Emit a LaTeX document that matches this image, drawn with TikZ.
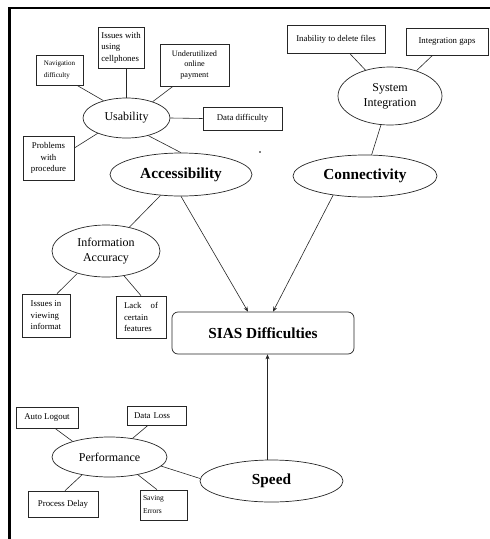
\documentclass[tikz,border=0pt]{standalone}
\usepackage{fontspec}
\setmainfont{Liberation Serif}
\usetikzlibrary{shapes.geometric,arrows.meta}

\begin{document}
\begin{tikzpicture}[x=1pt,y=-1pt,
  link/.style={draw=black!85, line width=0.6pt},
  arrowlink/.style={link, -{Stealth[length=5pt,width=4pt]}},
  topic/.style={ellipse, draw=black!85, line width=0.7pt, inner sep=0pt,
    align=center, font=\fontsize{12}{15}\selectfont},
  maintopic/.style={topic, font=\bfseries\fontsize{15.3}{18}\selectfont},
  issue/.style={rectangle, draw=black!85, line width=0.7pt, inner sep=1pt,
    align=left, font=\fontsize{8.8}{11.4}\selectfont},
  goal/.style={rectangle, rounded corners=6pt, draw=black!85, line width=0.7pt,
    font=\bfseries\fontsize{15.3}{18}\selectfont}
]
\useasboundingbox (0,0) rectangle (490,539);

% page frame (top and left rules)
\draw[line width=2.5pt] (491,8) -- (9.5,8) -- (9.5,541);

% central box
\node[goal, minimum width=182pt, minimum height=42pt] (sias) at (263,333) {SIAS Difficulties};

% main categories
\node[maintopic, minimum width=142pt, minimum height=43pt] (access) at (181,174.5) {Accessibility};
\node[maintopic, minimum width=144pt, minimum height=42pt] (conn) at (365,176) {Connectivity};
\node[maintopic, minimum width=143pt, minimum height=42pt] (speed) at (271.5,481) {Speed};

% sub-topics
\node[topic, minimum width=87pt, minimum height=40pt] (usab) at (126.5,118) {Usability};
\node[topic, minimum width=104pt, minimum height=58pt] (sysint) at (390,96) {System\\Integration};
\node[topic, minimum width=108pt, minimum height=52pt] (info) at (106,251) {Information\\Accuracy};
\node[topic, minimum width=115pt, minimum height=40pt] (perf) at (109.5,457) {Performance};

% usability issues
\node[issue, minimum width=47pt, minimum height=30pt, font=\fontsize{7}{11.4}\selectfont] (nav) at (59.5,70) {Navigation\\difficulty};
\node[issue, minimum width=46pt, minimum height=41pt] (cell) at (121,47.5) {Issues with\\using\\cellphones};
\node[issue, minimum width=69pt, minimum height=42pt, align=center, font=\fontsize{8.2}{10.8}\selectfont] (under) at (194.5,65) {Underutilized\\online\\payment};
\node[issue, minimum width=79pt, minimum height=23pt] (data) at (242.5,118.5) {Data difficulty};
\node[issue, minimum width=51pt, minimum height=44pt, align=center] (probs) at (48.5,158) {Problems\\with\\procedure};

% system integration issues
\node[issue, minimum width=98pt, minimum height=28pt] (inab) at (336,39) {Inability to delete files};
\node[issue, minimum width=82pt, minimum height=27pt] (gaps) at (447,41.5) {Integration gaps};

% information accuracy issues
\node[issue, minimum width=48pt, minimum height=43pt] (issues) at (46,315.5) {Issues in\\viewing\\informat};
\node[issue, minimum width=50pt, minimum height=42pt] (lack) at (141,317) {Lack\hspace{9pt}of\\certain\\features};

% performance issues
\node[issue, minimum width=62pt, minimum height=21pt] (auto) at (47,417.5) {Auto Logout};
\node[issue, text width=45pt, inner xsep=7pt, minimum height=19pt] (dloss) at (156.5,415.5) {Data Loss};
\node[issue, minimum width=70pt, minimum height=26pt] (pdelay) at (63,504) {Process Delay};
\node[issue, text width=41pt, inner xsep=3pt, minimum height=30pt, font=\fontsize{7.5}{13}\selectfont] (saving) at (163.5,505) {Saving\\Errors};

\fill (260,152) circle (0.9pt);

% connectors around Usability
\draw[link] ([xshift=17.5pt]nav.south) -- (usab.143);
\draw[link] (usab.north) -- (usab.north |- cell.south);
\draw[link] ([xshift=-21.5pt]under.south) -- (usab.32);
\draw[link] (usab.east) -- (data.west);
\draw[link] ([yshift=10pt]probs.east) -- (usab.208);
\draw[link] (usab.321) -- (access.north);

% connectors around Information Accuracy
\draw[link] (access) -- (info);
\draw[link] (info.218) -- ([xshift=11pt]issues.north);
\draw[link] (info.306) -- (lack.north);

% connectors around System Integration
\draw[link] (inab) -- (sysint);
\draw[link] (gaps) -- (sysint);
\draw[link] (sysint) -- (conn);

% connectors around Performance
\draw[link] ([xshift=8pt]auto.south) -- (perf.157);
\draw[link] ([xshift=-8.5pt]dloss.south) -- (perf.39);
\draw[link] ([xshift=2pt]pdelay.north) -- (perf.213);
\draw[link] ([xshift=-6.5pt]saving.north) -- (perf.328);
\draw[link] (perf.350) -- (speed.178);

% arrows into the central box
\draw[arrowlink] (access.south) -- ([xshift=-15pt]sias.north);
\draw[arrowlink] (conn.211) -- ([xshift=10pt]sias.north);
\coordinate (sp) at ([xshift=-4pt]speed.north);
\draw[arrowlink] (sp) -- (sp |- sias.south);
\end{tikzpicture}
\end{document}
